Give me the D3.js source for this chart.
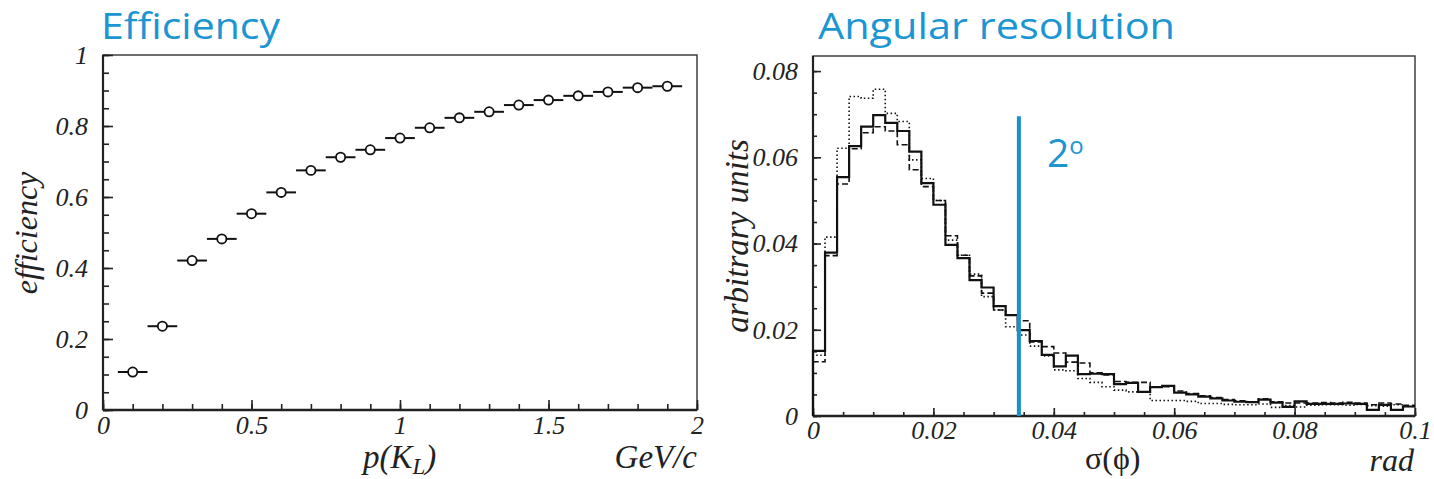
<!DOCTYPE html>
<html>
<head>
<meta charset="utf-8">
<script src="https://cdn.jsdelivr.net/npm/d3@7"></script>
<style>
  body { margin: 0; background: #fff; }
  .tick-label { font-family: 'Liberation Serif', 'Times New Roman', serif; font-style: italic; font-size: 26px; fill: #222; }
  .axis-title { font-family: 'Liberation Serif', 'Times New Roman', serif; font-style: italic; font-size: 32px; fill: #222; }
  .slide-title { font-family: 'Open Sans', sans-serif; font-size: 36px; fill: #1b96d3; }
</style>
</head>
<body>
<svg id="svg-main" width="1434" height="479"></svg>
<script>
//////////////////////////////////////////////////////////////////////////////////////////
// Data
//////////////////////////////////////////////////////////////////////////////////////////
var eff_p = [0.1, 0.2, 0.3, 0.4, 0.5, 0.6, 0.7, 0.8, 0.9, 1.0,
             1.1, 1.2, 1.3, 1.4, 1.5, 1.6, 1.7, 1.8, 1.9]
var eff_value = [0.107, 0.236, 0.421, 0.482, 0.553, 0.613, 0.675, 0.712, 0.733, 0.766,
                 0.795, 0.823, 0.840, 0.859, 0.873, 0.885, 0.896, 0.908, 0.912]
var eff_half_width = 0.05

var eff_x_ticks = [0, 0.5, 1, 1.5, 2]
var eff_y_ticks = [0, 0.2, 0.4, 0.6, 0.8, 1]

var res_bin_width = 0.002
var res_solid = [0.0151, 0.0379, 0.0554, 0.0626, 0.0671, 0.0698, 0.0680, 0.0661, 0.0613, 0.0540,
                 0.0490, 0.0397, 0.0366, 0.0315, 0.0298, 0.0255, 0.0234, 0.0199, 0.0174, 0.0142,
                 0.0115, 0.0140, 0.0097, 0.0098, 0.0097, 0.0074, 0.0077, 0.0056, 0.0067, 0.0070,
                 0.0054, 0.0050, 0.0045, 0.0041, 0.0036, 0.0033, 0.0032, 0.0038, 0.0031, 0.0021,
                 0.0034, 0.0028, 0.0028, 0.0028, 0.0029, 0.0028, 0.0014, 0.0026, 0.0014, 0.0022]
var res_dashed = [0.0126, 0.0372, 0.0538, 0.0620, 0.0657, 0.0671, 0.0661, 0.0629, 0.0571, 0.0532,
                  0.0500, 0.0418, 0.0373, 0.0325, 0.0285, 0.0246, 0.0234, 0.0221, 0.0172, 0.0161,
                  0.0146, 0.0125, 0.0123, 0.0100, 0.0095, 0.0080, 0.0078, 0.0078, 0.0068, 0.0068,
                  0.0058, 0.0052, 0.0047, 0.0043, 0.0038, 0.0035, 0.0033, 0.0040, 0.0033, 0.0030,
                  0.0030, 0.0030, 0.0031, 0.0030, 0.0032, 0.0030, 0.0026, 0.0030, 0.0028, 0.0025]
var res_dotted = [0.0141, 0.0415, 0.0621, 0.0741, 0.0737, 0.0758, 0.0702, 0.0683, 0.0594, 0.0551,
                  0.0500, 0.0408, 0.0373, 0.0329, 0.0277, 0.0246, 0.0207, 0.0188, 0.0162, 0.0139,
                  0.0107, 0.0105, 0.0087, 0.0078, 0.0068, 0.0060, 0.0056, 0.0056, 0.0036, 0.0036,
                  0.0036, 0.0034, 0.0029, 0.0029, 0.0027, 0.0026, 0.0026, 0.0028, 0.0020, 0.0024,
                  0.0021, 0.0025, 0.0026, 0.0026, 0.0025, 0.0027, 0.0024, 0.0023, 0.0026, 0.0022]
var res_cut = 0.0342  // 2 degrees

var res_x_ticks = [0, 0.02, 0.04, 0.06, 0.08, 0.1]
var res_y_ticks = [0, 0.02, 0.04, 0.06, 0.08]

//////////////////////////////////////////////////////////////////////////////////////////
// Scales
//////////////////////////////////////////////////////////////////////////////////////////
var eff_x = d3.scaleLinear().domain([0, 2]).range([103, 697])
var eff_y = d3.scaleLinear().domain([0, 1]).range([410, 55])

var res_x = d3.scaleLinear().domain([0, 0.1]).range([813, 1415])
var res_y = d3.scaleLinear().domain([0, 0.0835]).range([416, 56])

var svg = d3.select('#svg-main')

//////////////////////////////////////////////////////////////////////////////////////////
// Main
//////////////////////////////////////////////////////////////////////////////////////////
draw_frame('eff', eff_x, eff_y)
draw_axes('eff', eff_x, eff_y, {
  'x-major': eff_x_ticks, 'x-minor': d3.range(0, 2.001, 0.1),
  'y-major': eff_y_ticks, 'y-minor': d3.range(0, 1.001, 0.05),
  'major-len': 10, 'minor-len': 6, 'x-pad': 6, 'y-pad': 15,
  'format': function(d) { return String(+d.toFixed(1)) }
})
draw_efficiency_points()

draw_frame('res', res_x, res_y)
draw_axes('res', res_x, res_y, {
  'x-major': res_x_ticks, 'x-minor': d3.range(0, 0.1001, 0.005),
  'y-major': res_y_ticks, 'y-minor': d3.range(0, 0.0801, 0.005),
  'major-len': 8, 'minor-len': 4, 'x-pad': 5, 'y-pad': 15,
  'format': function(d) { return String(+d.toFixed(2)) }
})
draw_histogram(res_dotted, '1.5,2.5', 1.6)
draw_histogram(res_dashed, '6,3', 1.6)
draw_histogram(res_solid, null, 2.2)
draw_cut_line()

write_titles()

//////////////////////////////////////////////////////////////////////////////////////////
// Frame and axes
//////////////////////////////////////////////////////////////////////////////////////////
function draw_frame(type, x, y) {
  var x0 = x.range()[0], x1 = x.range()[1]
  var y0 = y.range()[0], y1 = y.range()[1]
  var g = svg.append('g').attr('id', 'g-frame-' + type)

  g.append('rect')
    .attr('x', x0).attr('y', y1)
    .attr('width', x1 - x0).attr('height', y0 - y1)
    .attr('fill', 'none')
    .attr('stroke', '#333')
    .attr('stroke-width', 1.4)

  g.append('line')
    .attr('x1', x0).attr('x2', x1).attr('y1', y0).attr('y2', y0)
    .attr('stroke', '#222').attr('stroke-width', 2.4)

  g.append('line')
    .attr('x1', x0).attr('x2', x0).attr('y1', y0).attr('y2', y1)
    .attr('stroke', '#222').attr('stroke-width', 2.2)
}

function draw_axes(type, x, y, opt) {
  var y0 = y.range()[0], x0 = x.range()[0]

  var x_minor = d3.axisBottom(x).tickValues(opt['x-minor']).tickSize(-opt['minor-len']).tickFormat('')
  var x_major = d3.axisBottom(x).tickValues(opt['x-major']).tickSize(-opt['major-len'])
    .tickPadding(opt['x-pad']).tickFormat(opt['format'])
  var y_minor = d3.axisLeft(y).tickValues(opt['y-minor']).tickSize(-opt['minor-len']).tickFormat('')
  var y_major = d3.axisLeft(y).tickValues(opt['y-major']).tickSize(-opt['major-len'])
    .tickPadding(opt['y-pad']).tickFormat(opt['format'])

  var axes = [
    [x_minor, 'translate(0,' + y0 + ')'],
    [x_major, 'translate(0,' + y0 + ')'],
    [y_minor, 'translate(' + x0 + ',0)'],
    [y_major, 'translate(' + x0 + ',0)']
  ]
  axes.forEach(function(a) {
    var g = svg.append('g')
      .attr('class', 'axis-' + type)
      .attr('transform', a[1])
      .call(a[0])
    g.select('.domain').remove()
    g.selectAll('line').attr('stroke', '#222').attr('stroke-width', 1.6)
    g.selectAll('text')
      .attr('class', 'tick-label')
      .attr('font-family', null).attr('font-size', null).attr('fill', null)
  })
}

//////////////////////////////////////////////////////////////////////////////////////////
// Efficiency plot
//////////////////////////////////////////////////////////////////////////////////////////
function draw_efficiency_points() {
  var data = eff_p.map(function(p, i) { return {'p': p, 'v': eff_value[i]} })
  var g = svg.append('g').attr('id', 'g-eff-points')

  g.selectAll('errbar')
    .data(data)
    .enter()
    .append('line')
    .attr('x1', function(d) { return eff_x(d.p - eff_half_width) })
    .attr('x2', function(d) { return eff_x(d.p + eff_half_width) })
    .attr('y1', function(d) { return eff_y(d.v) })
    .attr('y2', function(d) { return eff_y(d.v) })
    .attr('stroke', '#111')
    .attr('stroke-width', 2)

  g.selectAll('marker')
    .data(data)
    .enter()
    .append('circle')
    .attr('cx', function(d) { return eff_x(d.p) })
    .attr('cy', function(d) { return eff_y(d.v) })
    .attr('r', 4.6)
    .attr('fill', '#fff')
    .attr('stroke', '#111')
    .attr('stroke-width', 1.8)
}

//////////////////////////////////////////////////////////////////////////////////////////
// Angular resolution plot
//////////////////////////////////////////////////////////////////////////////////////////
function draw_histogram(values, dash, width) {
  var pts = [[0, 0]]
  values.forEach(function(v, i) { pts.push([i * res_bin_width, v]) })
  pts.push([values.length * res_bin_width, values[values.length - 1]])

  var line = d3.line()
    .x(function(d) { return res_x(d[0]) })
    .y(function(d) { return res_y(d[1]) })
    .curve(d3.curveStepAfter)

  svg.append('path')
    .attr('d', line(pts))
    .attr('fill', 'none')
    .attr('stroke', '#111')
    .attr('stroke-width', width)
    .attr('stroke-dasharray', dash)
}

function draw_cut_line() {
  svg.append('line')
    .attr('x1', res_x(res_cut)).attr('x2', res_x(res_cut))
    .attr('y1', res_y(0)).attr('y2', res_y(0.0695))
    .attr('stroke', '#1a8fca')
    .attr('stroke-width', 4)

  var t = svg.append('text')
    .attr('class', 'slide-title')
    .attr('x', res_x(res_cut) + 28)
    .attr('y', 167)
    .style('font-size', '39px')
    .text('2')
  t.append('tspan')
    .attr('dy', -13)
    .style('font-size', '24px')
    .text('o')
}

//////////////////////////////////////////////////////////////////////////////////////////
// Titles
//////////////////////////////////////////////////////////////////////////////////////////
function write_titles() {
  svg.append('text')
    .attr('class', 'slide-title')
    .attr('x', 101).attr('y', 39)
    .attr('textLength', 179).attr('lengthAdjust', 'spacingAndGlyphs')
    .text('Efficiency')

  svg.append('text')
    .attr('class', 'slide-title')
    .attr('x', 818).attr('y', 39)
    .attr('textLength', 357).attr('lengthAdjust', 'spacingAndGlyphs')
    .text('Angular resolution')

  // left axis titles
  svg.append('text')
    .attr('class', 'axis-title')
    .attr('text-anchor', 'middle')
    .attr('transform', 'translate(37,233) rotate(-90)')
    .text('efficiency')

  var p = svg.append('text')
    .attr('class', 'axis-title')
    .attr('x', 363).attr('y', 468)
    .style('font-size', '33px')
    .text('p(K')
  p.append('tspan').attr('dy', 6).style('font-size', '23px').text('L')
  p.append('tspan').attr('dy', -6).text(')')

  svg.append('text')
    .attr('class', 'axis-title')
    .attr('text-anchor', 'end')
    .attr('x', 697).attr('y', 468)
    .style('font-size', '33px')
    .text('GeV/c')

  // right axis titles
  svg.append('text')
    .attr('class', 'axis-title')
    .attr('text-anchor', 'middle')
    .attr('transform', 'translate(748,236) rotate(-90)')
    .style('font-size', '33px')
    .text('arbitrary units')

  svg.append('text')
    .attr('class', 'axis-title')
    .attr('x', 1085).attr('y', 469)
    .style('font-style', 'normal')
    .text('σ(ϕ)')

  svg.append('text')
    .attr('class', 'axis-title')
    .attr('text-anchor', 'end')
    .attr('x', 1414).attr('y', 471)
    .text('rad')
}
</script>
</body>
</html>
